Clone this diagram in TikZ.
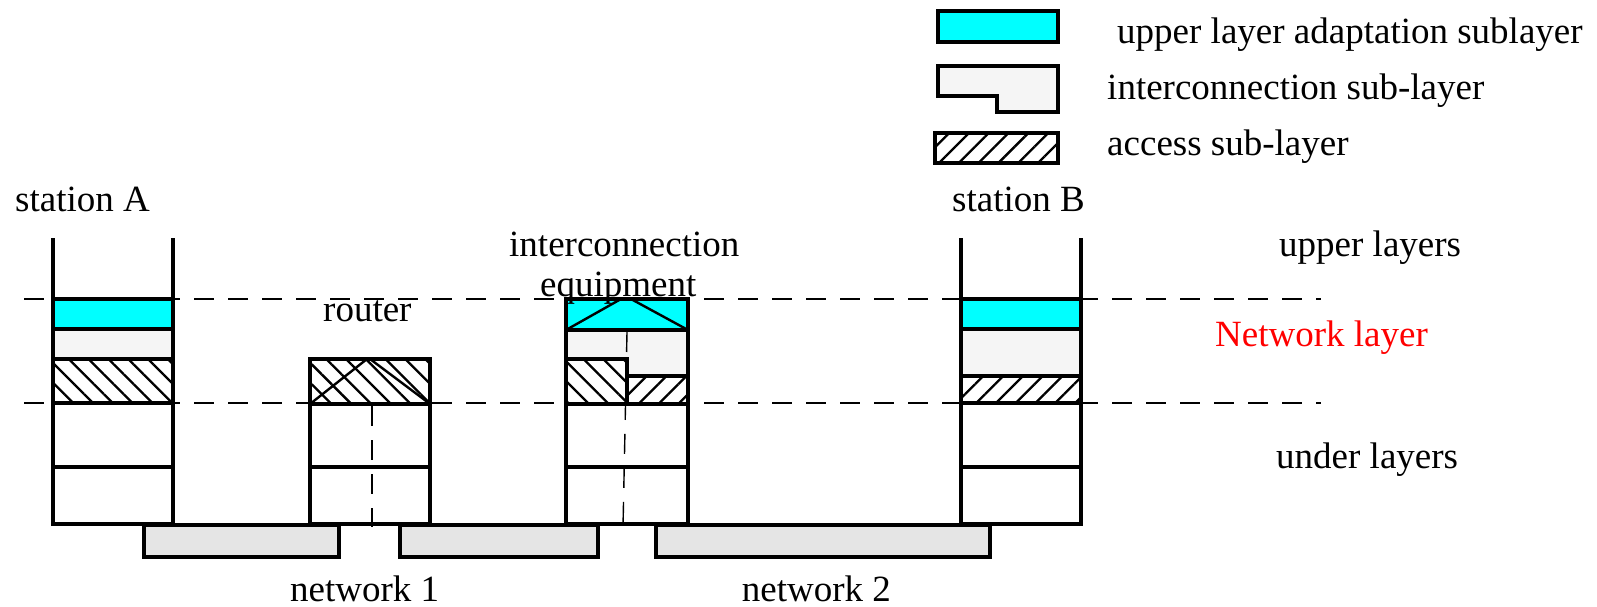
\documentclass[tikz,border=0pt]{standalone}
\usepackage{fontspec}
\setmainfont{Liberation Serif}
\usetikzlibrary{patterns.meta}
\definecolor{adaptcyan}{RGB}{0,255,255}
\definecolor{interfill}{RGB}{245,245,245}
\definecolor{netfill}{RGB}{229,229,229}
\tikzset{
  box/.style={draw=black, line width=3.3pt},
  upperbox/.style={box, fill=adaptcyan},
  interbox/.style={box, fill=interfill},
  accessdown/.style={box, pattern={Lines[angle=-45,distance=14pt,line width=2.3pt]}},
  accessup/.style={box, pattern={Lines[angle=45,distance=14pt,line width=2.3pt]}},
  netbar/.style={box, fill=netfill},
  levelline/.style={line width=1.4pt, dash pattern=on 20pt off 14pt},
  thinline/.style={line width=2.4pt},
  txt/.style={inner sep=0pt, anchor=base west, font=\fontsize{37}{44}\selectfont},
}
\begin{document}
\begin{tikzpicture}[x=1pt,y=-1pt]
\useasboundingbox (0,0) rectangle (1597,607);

% shared medium line under all stacks
\draw[line width=1.2pt] (53,524.5) coordinate (busL) -- (1081,524.5) coordinate (busR);

% ---- station A ----
\draw[box] (53,238) -- (53,524) (173,238) -- (173,524);
\draw[upperbox] (53,299) rectangle (173,329);
\draw[interbox] (53,329) rectangle (173,359);
\draw[accessdown] (53,359) rectangle (173,403);
\draw[box] (53,403) rectangle (173,467);
\draw[box] (53,467) rectangle (173,524);

% ---- router ----
\draw[accessdown] (310,359) rectangle (430,404);
\draw[thinline] (310,404) -- (367,359) (370,359) -- (430,404);
\draw[box] (310,404) rectangle (430,467);
\draw[box] (310,467) rectangle (430,524);

% ---- interconnection equipment ----
\draw[upperbox] (566,299) rectangle (688,330);
\draw[thinline] (566,330) -- (621,299) (631,299) -- (688,330);
\draw[interbox] (566,330) -- (688,330) -- (688,376) -- (627,376) -- (627,359) -- (566,359) -- cycle;
\draw[accessdown] (566,359) rectangle (627,404);
\draw[accessup] (627,376) rectangle (688,404);
\draw[box] (566,404) rectangle (688,467);
\draw[box] (566,467) rectangle (688,524);

% ---- station B ----
\draw[box] (961,238) -- (961,524) (1081,238) -- (1081,524);
\draw[upperbox] (961,299) rectangle (1081,329);
\draw[interbox] (961,329) rectangle (1081,376);
\draw[accessup] (961,376) rectangle (1081,403);
\draw[box] (961,403) rectangle (1081,467);
\draw[box] (961,467) rectangle (1081,524);

% ---- networks ----
\draw[netbar] (144,525) rectangle (339,557);
\draw[netbar] (400,525) rectangle (598,557);
\draw[netbar] (656,525) rectangle (990,557);

% ---- relay paths ----
\draw[levelline] (372,406) -- (372,527);
\draw[levelline] (627,332) -- (623,527);

% ---- network layer boundaries ----
\draw[levelline] (24,299) -- (1321,299);
\draw[levelline] (24,403) -- (1321,403);

% ---- legend ----
\draw[upperbox] (938,11) rectangle (1058,42);
\draw[interbox] (938,66) -- (1058,66) -- (1058,112) -- (997,112) -- (997,96) -- (938,96) -- cycle;
\draw[accessup] (935,133) rectangle (1058,163);
\node[txt] (lgA) at (1117,43.3) {upper layer adaptation sublayer};
\node[txt] (lgI) at (1107,100) {interconnection sub-layer};
\node[txt] (lgS) at (1107,155.7) {access sub-layer};

% ---- labels ----
\node[txt] (stA) at (15,211) {station A};
\node[txt] (stB) at (952,211) {station B};
\node[txt] (rt) at (323,321.7) {router};
\node[txt] (ie1) at (509,256) {interconnection};
\node[txt] (ie2) at (540,296.7) {equipment};
\node[txt] (up) at (1279,256) {upper layers};
\node[txt, text=red] (nl) at (1215,346.7) {Network layer};
\node[txt] (un) at (1276,468.3) {under layers};
\node[txt] (n1) at (290,601.7) {network 1};
\node[txt] (n2) at (741.7,601.7) {network 2};
\end{tikzpicture}
\end{document}
